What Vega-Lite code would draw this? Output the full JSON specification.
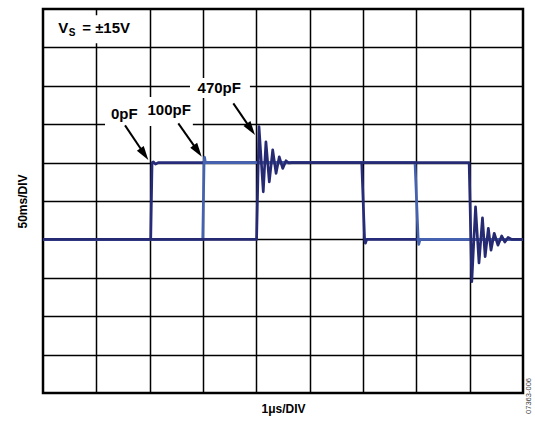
{
  "$schema": "https://vega.github.io/schema/vega-lite/v6.json",
  "width": 480,
  "height": 384,
  "autosize": {"type": "none"},
  "padding": {"left": 43, "top": 9, "right": 12, "bottom": 28},
  "background": "white",
  "config": {"view": {"stroke": "#000000", "strokeWidth": 2.5}, "font": "Liberation Sans"},
  "datasets": {
    "traces": [
      {"s": "0pF", "i": 0, "x": 0, "y": 4},
      {"s": "0pF", "i": 1, "x": 2.02, "y": 4},
      {"s": "0pF", "i": 2, "x": 2.045, "y": 6.0},
      {"s": "0pF", "i": 3, "x": 2.07, "y": 6.02},
      {"s": "0pF", "i": 4, "x": 2.11, "y": 5.96},
      {"s": "0pF", "i": 5, "x": 2.16, "y": 6.0},
      {"s": "0pF", "i": 6, "x": 5.976, "y": 6.0},
      {"s": "0pF", "i": 7, "x": 6.03, "y": 4.0},
      {"s": "0pF", "i": 8, "x": 6.045, "y": 3.9},
      {"s": "0pF", "i": 9, "x": 6.07, "y": 4.0},
      {"s": "0pF", "i": 10, "x": 9, "y": 4.0},
      {"s": "100pF", "i": 0, "x": 0, "y": 4},
      {"s": "100pF", "i": 1, "x": 2.995, "y": 4},
      {"s": "100pF", "i": 2, "x": 3.02, "y": 6.0},
      {"s": "100pF", "i": 3, "x": 3.03, "y": 6.14},
      {"s": "100pF", "i": 4, "x": 3.045, "y": 6.0},
      {"s": "100pF", "i": 5, "x": 6.975, "y": 6.0},
      {"s": "100pF", "i": 6, "x": 7.035, "y": 4.0},
      {"s": "100pF", "i": 7, "x": 7.045, "y": 3.87},
      {"s": "100pF", "i": 8, "x": 7.07, "y": 4.0},
      {"s": "100pF", "i": 9, "x": 9, "y": 4.0},
      {"s": "470pF", "i": 0, "x": 0, "y": 4},
      {"s": "470pF", "i": 1, "x": 4.005, "y": 4},
      {"s": "470pF", "i": 2, "x": 4.05, "y": 6.935},
      {"s": "470pF", "i": 3, "x": 4.13, "y": 5.24},
      {"s": "470pF", "i": 4, "x": 4.18, "y": 6.54},
      {"s": "470pF", "i": 5, "x": 4.243, "y": 5.5},
      {"s": "470pF", "i": 6, "x": 4.307, "y": 6.33},
      {"s": "470pF", "i": 7, "x": 4.37, "y": 5.72},
      {"s": "470pF", "i": 8, "x": 4.43, "y": 6.15},
      {"s": "470pF", "i": 9, "x": 4.495, "y": 5.85},
      {"s": "470pF", "i": 10, "x": 4.556, "y": 6.05},
      {"s": "470pF", "i": 11, "x": 4.61, "y": 5.99},
      {"s": "470pF", "i": 12, "x": 4.67, "y": 6.0},
      {"s": "470pF", "i": 13, "x": 7.99, "y": 6.0},
      {"s": "470pF", "i": 14, "x": 8.04, "y": 2.9},
      {"s": "470pF", "i": 15, "x": 8.11, "y": 4.85},
      {"s": "470pF", "i": 16, "x": 8.175, "y": 3.385},
      {"s": "470pF", "i": 17, "x": 8.24, "y": 4.56},
      {"s": "470pF", "i": 18, "x": 8.29, "y": 3.55},
      {"s": "470pF", "i": 19, "x": 8.35, "y": 4.29},
      {"s": "470pF", "i": 20, "x": 8.4, "y": 3.72},
      {"s": "470pF", "i": 21, "x": 8.46, "y": 4.16},
      {"s": "470pF", "i": 22, "x": 8.53, "y": 3.85},
      {"s": "470pF", "i": 23, "x": 8.6, "y": 4.09},
      {"s": "470pF", "i": 24, "x": 8.66, "y": 3.93},
      {"s": "470pF", "i": 25, "x": 8.72, "y": 4.05},
      {"s": "470pF", "i": 26, "x": 8.79, "y": 4.0},
      {"s": "470pF", "i": 27, "x": 9, "y": 4.0}
    ],
    "boxes": [
      {"x": 0.13, "x2": 1.82, "y": 9.11, "y2": 9.84},
      {"x": 1.163, "x2": 2.81, "y": 6.95, "y2": 7.71},
      {"x": 2.756, "x2": 3.88, "y": 7.68, "y2": 8.2}
    ],
    "arrows": [
      {"x": 1.538, "y": 6.97, "x2": 1.889, "y2": 6.242, "hx": 1.975, "hy": 6.07},
      {"x": 2.537, "y": 7.023, "x2": 2.89, "y2": 6.326, "hx": 2.976, "hy": 6.154},
      {"x": 3.569, "y": 7.543, "x2": 3.889, "y2": 6.891, "hx": 3.975, "hy": 6.719}
    ],
    "labels": [
      {"t": "0pF", "x": 1.523, "y": 7.13},
      {"t": "100pF", "x": 2.366, "y": 7.24},
      {"t": "470pF", "x": 3.304, "y": 7.8}
    ],
    "vs": [
      {"t": "V", "x": 0.287, "y": 9.383},
      {"t": "= ±15V", "x": 0.735, "y": 9.383}
    ],
    "vsub": [
      {"t": "S", "x": 0.485, "y": 9.3}
    ],
    "fig": [
      {"t": "07363-006", "x": 9.113, "y": 0.39}
    ]
  },
  "encoding": {
    "x": {
      "field": "x", "type": "quantitative",
      "scale": {"domain": [0, 9], "nice": false, "zero": false},
      "axis": {"title": "1μs/DIV", "values": [1, 2, 3, 4, 5, 6, 7, 8], "grid": true, "gridColor": "#000000", "gridWidth": 1.5, "gridOpacity": 1, "labels": false, "ticks": false, "domain": false, "titleFont": "Liberation Sans", "titleFontSize": 12, "titleFontWeight": "bold", "titleColor": "#000000", "titlePadding": 10}
    },
    "y": {
      "field": "y", "type": "quantitative",
      "scale": {"domain": [0, 10], "nice": false, "zero": false},
      "axis": {"title": "50ms/DIV", "values": [1, 2, 3, 4, 5, 6, 7, 8, 9], "grid": true, "gridColor": "#000000", "gridWidth": 1.5, "gridOpacity": 1, "labels": false, "ticks": false, "domain": false, "titleFont": "Liberation Sans", "titleFontSize": 12, "titleFontWeight": "bold", "titleColor": "#000000", "titlePadding": 14}
    }
  },
  "layer": [
    {
      "data": {"name": "boxes"},
      "mark": {"type": "rect", "fill": "#ffffff", "stroke": null},
      "encoding": {"x2": {"field": "x2"}, "y2": {"field": "y2"}}
    },
    {
      "data": {"name": "traces"},
      "transform": [{"filter": "datum.s === '0pF'"}],
      "mark": {"type": "line", "color": "#262b7a", "strokeWidth": 2.7, "strokeJoin": "round"},
      "encoding": {"order": {"field": "i", "type": "quantitative"}}
    },
    {
      "data": {"name": "traces"},
      "transform": [{"filter": "datum.s === '100pF'"}],
      "mark": {"type": "line", "color": "#4562b0", "strokeWidth": 2.7, "strokeJoin": "round"},
      "encoding": {"order": {"field": "i", "type": "quantitative"}}
    },
    {
      "data": {"name": "traces"},
      "transform": [{"filter": "datum.s === '470pF'"}],
      "mark": {"type": "line", "color": "#262a73", "strokeWidth": 2.7, "strokeJoin": "round"},
      "encoding": {"order": {"field": "i", "type": "quantitative"}}
    },
    {
      "data": {"name": "arrows"},
      "mark": {"type": "rule", "color": "#000000", "strokeWidth": 2},
      "encoding": {"x2": {"field": "x2"}, "y2": {"field": "y2"}}
    },
    {
      "data": {"name": "arrows"},
      "mark": {"type": "point", "shape": "M0,0L-0.3,1L0.3,1Z", "filled": true, "color": "#000000", "opacity": 1, "size": 784, "angle": 145},
      "encoding": {"x": {"field": "hx", "type": "quantitative"}, "y": {"field": "hy", "type": "quantitative"}}
    },
    {
      "data": {"name": "labels"},
      "mark": {"type": "text", "font": "Liberation Sans", "fontWeight": "bold", "fontSize": 15, "align": "center", "baseline": "alphabetic", "color": "#000000"},
      "encoding": {"text": {"field": "t"}}
    },
    {
      "data": {"name": "vs"},
      "mark": {"type": "text", "font": "Liberation Sans", "fontWeight": "bold", "fontSize": 15, "align": "left", "baseline": "alphabetic", "color": "#000000"},
      "encoding": {"text": {"field": "t"}}
    },
    {
      "data": {"name": "vsub"},
      "mark": {"type": "text", "font": "Liberation Sans", "fontWeight": "bold", "fontSize": 10, "align": "left", "baseline": "alphabetic", "color": "#000000"},
      "encoding": {"text": {"field": "t"}}
    },
    {
      "data": {"name": "fig"},
      "mark": {"type": "text", "font": "Liberation Sans", "fontSize": 7.5, "align": "right", "baseline": "middle", "angle": 270, "color": "#444444"},
      "encoding": {"text": {"field": "t"}}
    }
  ]
}
